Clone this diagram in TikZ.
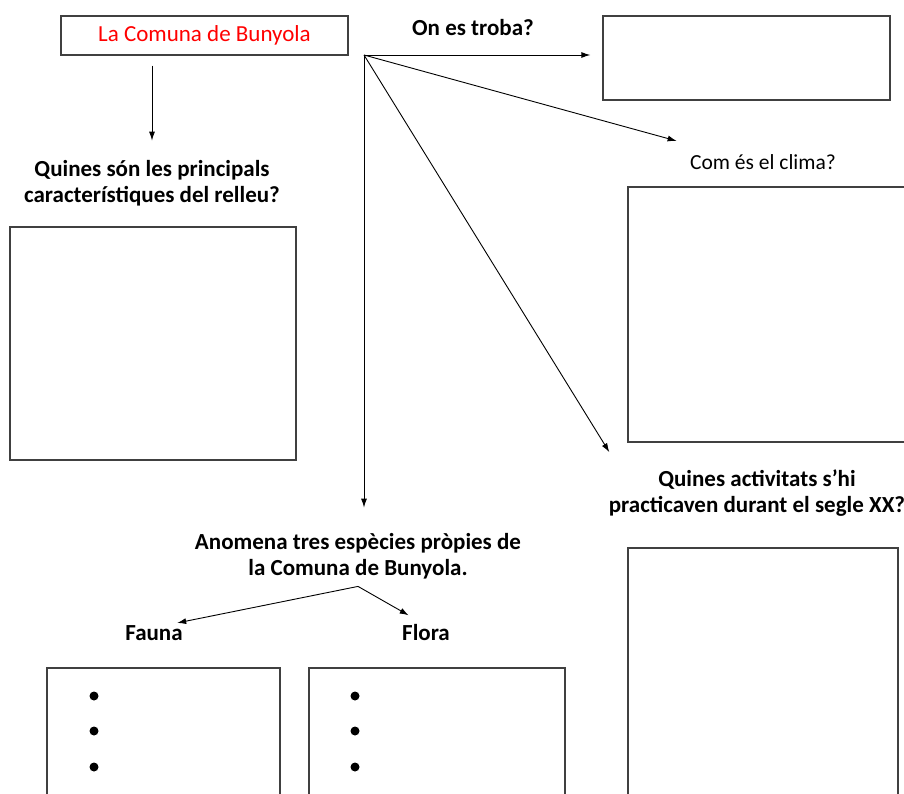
\documentclass[tikz,border=0pt]{standalone}
\usepackage{fontspec}
\setmainfont{Carlito}
\usetikzlibrary{arrows.meta}
\tikzset{
	box/.style={draw=black!75, line width=1.3pt, inner sep=0pt},
	question/.style={font=\fontsize{23}{26}\selectfont\bfseries, align=center},
	arrow/.style={-{Latex[length=9pt,width=6pt]}, line width=0.9pt},
	dot/.style={circle, fill=black, inner sep=0pt, minimum size=9pt},
}
\begin{document}
\begin{tikzpicture}[x=1pt, y=-1pt]
	\clip (0,0) rectangle (904,794);
	% Title and the question boxes
	\node[box, minimum width=287pt, minimum height=39pt, text=red, font=\fontsize{23}{26}\selectfont] (title) at (204.5, 35.5) {La Comuna de Bunyola};
	\node[box, minimum width=287pt, minimum height=84pt] (troba) at (746.5, 58) {};
	\node[box, minimum width=282pt, minimum height=255pt] (clima) at (769, 314.5) {};
	\node[box, minimum width=286pt, minimum height=233pt] (relleu) at (153, 343.5) {};
	\node[box, minimum width=270pt, minimum height=252pt] (activ) at (763, 674) {};
	\node[box, minimum width=233pt, minimum height=132pt] (faunabox) at (163.5, 734) {};
	\node[box, minimum width=256pt, minimum height=132pt] (florabox) at (437, 734) {};
	
	% Questions
	\node[question] (trobaq) at (473, 28) {On es troba?};
	\node[question, font=\fontsize{21.5}{26}\selectfont] (climaq) at (763, 162) {Com és el clima?};
	\node[question] (relleuq) at (152, 183) {Quines són les principals\\característiques del relleu?};
	\node[question] (activq) at (757, 493) {Quines activitats s’hi\\practicaven durant el segle XX?};
	\node[question] (anomena) at (358, 556) {Anomena tres espècies pròpies de\\la Comuna de Bunyola.};
	\node[question] (fauna) at (154, 633) {Fauna};
	\node[question] (flora) at (426, 633) {Flora};
	
	% Bullets in the lists
	\foreach \i/\y in {1/696, 2/731, 3/767} {
		\node[dot] (fb\i) at (94, \y) {};
		\node[dot] (lb\i) at (355, \y) {};
	}
	
	% Draw the arrows
	\coordinate (hub) at (364, 55);
	\coordinate (split) at ([yshift=-4pt]anomena.south);
	\draw[arrow, shorten <=10pt, shorten >=16pt] (relleuq.north |- title.south) -- (relleuq.north);
	\draw[arrow, shorten >=12pt] (hub) -- (hub -| troba.west);
	\draw[arrow] (hub) -- ([shift={(-10pt,10pt)}]climaq.north west);
	\draw[arrow] (hub) -- ([shift={(4pt,14pt)}]activq.north west);
	\draw[arrow, shorten >=22pt] (hub) -- (hub |- anomena.north);
	\draw[arrow] (split) -- ([shift={(-9pt,-1pt)}]fauna.north east);
	\draw[arrow] (split) -- ([shift={(10pt,6pt)}]flora.north west);
\end{tikzpicture}
\end{document}
